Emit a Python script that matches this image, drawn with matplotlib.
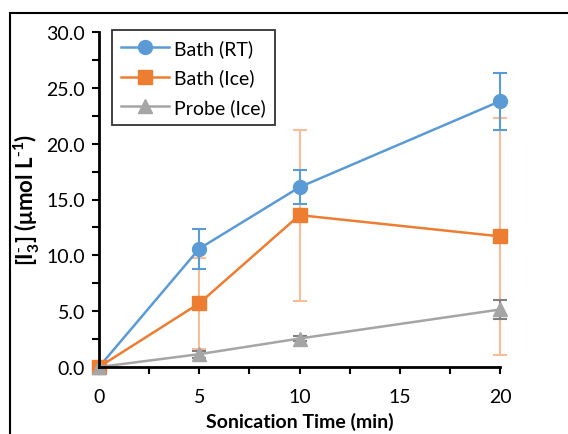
import matplotlib.pyplot as plt
from matplotlib.patches import Rectangle
from matplotlib.ticker import MultipleLocator

plt.rcParams['font.family'] = ['Lato', 'DejaVu Sans']
plt.rcParams['mathtext.fontset'] = 'custom'
plt.rcParams['mathtext.bf'] = 'Lato:bold'
plt.rcParams['mathtext.default'] = 'bf'

time = [0, 5, 10, 20]
bath_rt = [0.0, 10.6, 16.1, 23.8]
bath_rt_err = [0.0, 1.8, 1.5, 2.55]
bath_ice = [0.0, 5.7, 13.6, 11.7]
bath_ice_err = [0.0, 4.1, 7.65, 10.6]
probe_ice = [0.0, 1.15, 2.55, 5.15]
probe_ice_err = [0.0, 0.3, 0.2, 0.85]

blue = '#5B9BD5'
orange = '#ED7D31'
grey = '#A5A5A5'

fig = plt.figure(figsize=(5.68, 4.35), dpi=100)
fig.patches.append(Rectangle((10 / 568, -0.1), 1.2, 1 - 14 / 435 + 0.1,
                             transform=fig.transFigure, fill=False,
                             edgecolor='black', linewidth=1.5))
ax = fig.add_axes([99 / 568, 67 / 435, 401 / 568, 335 / 435])

# error bars first, lighter shades underneath the series
ax.errorbar(time, bath_ice, yerr=bath_ice_err, fmt='none', ecolor='#F8BC98',
            elinewidth=1.5, capsize=5, capthick=1.5, zorder=2)
ax.errorbar(time, bath_rt, yerr=bath_rt_err, fmt='none', ecolor=blue,
            elinewidth=1.5, capsize=5, capthick=1.5, zorder=2)
ax.errorbar(time, probe_ice, yerr=probe_ice_err, fmt='none', ecolor='#7F7F7F',
            elinewidth=1.5, capsize=5, capthick=1.5, zorder=2)

ax.plot(time, bath_rt, '-o', color=blue, lw=1.8, ms=10, label='Bath (RT)', zorder=4)
ax.plot(time, bath_ice, '-s', color=orange, lw=1.8, ms=9.5, label='Bath (Ice)', zorder=4)
ax.plot(time, probe_ice, '-^', color=grey, lw=1.8, ms=9.5, label='Probe (Ice)', zorder=4)

ax.set_xlim(0, 20)
ax.set_ylim(0, 30)
ax.xaxis.set_major_locator(MultipleLocator(5))
ax.xaxis.set_minor_locator(MultipleLocator(2.5))
ax.yaxis.set_major_locator(MultipleLocator(5))
ax.yaxis.set_minor_locator(MultipleLocator(2.5))
ax.yaxis.set_major_formatter(lambda v, p: f'{v:.1f}')
ax.tick_params(which='both', direction='out', length=5, width=1.5, labelsize=14)
ax.tick_params(axis='x', pad=10)
ax.tick_params(axis='y', pad=5)
ax.spines[['top', 'right']].set_visible(False)
ax.spines[['left', 'bottom']].set_linewidth(2)
for s in ax.spines.values():
    s.set_zorder(5)
for ln in ax.lines:
    ln.set_clip_on(False)
for c in ax.collections:
    c.set_clip_on(False)

ax.set_xlabel('Sonication Time (min)', fontsize=14, fontweight='bold', labelpad=5)
ax.set_ylabel(r'[I$_{3}^{\text{-}}$] (μmol L$^{\text{-}1}$)', fontsize=16,
              fontweight='bold', labelpad=3)

leg = ax.legend(loc='upper left', bbox_to_anchor=(0.032, 1.005), fontsize=14,
                frameon=True, fancybox=False, edgecolor='black', handlelength=2.5,
                borderpad=0.45, labelspacing=0.6, handletextpad=0.25, borderaxespad=0)
leg.get_frame().set_linewidth(1.3)

fig.savefig('out.png', dpi=100)
